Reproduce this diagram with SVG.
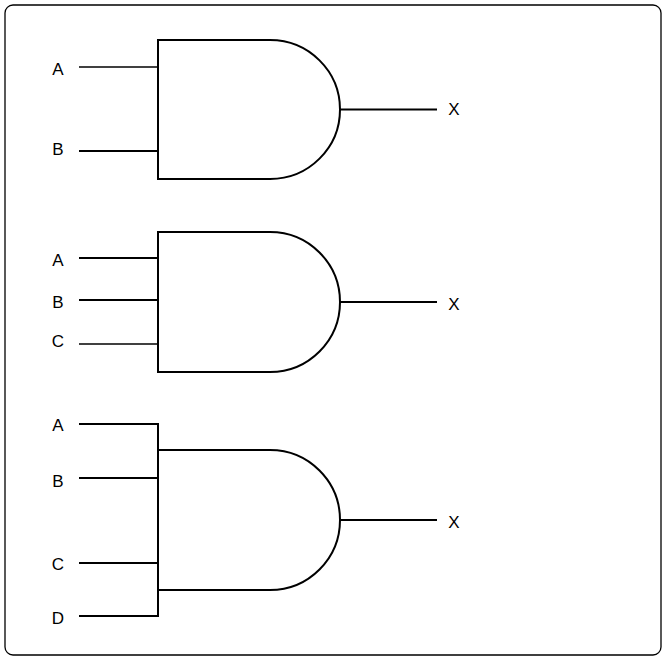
<svg xmlns="http://www.w3.org/2000/svg" width="666" height="660" viewBox="0 0 666 660">
<style>
.g{fill:#fff;stroke:#000;stroke-width:2}
.w{stroke:#000;stroke-width:2;fill:none}
.t{stroke:#000;stroke-width:1.3;fill:none}
text{font-family:"Liberation Sans",Arial,sans-serif;font-size:17px;fill:#000;dominant-baseline:central;text-anchor:middle}
</style>
<rect x="5" y="5" width="656" height="650" rx="8" fill="#fff" stroke="#000" stroke-width="1.3"/>
<g id="connectors">
<line class="t" x1="79" y1="67" x2="158" y2="67"/>
<line class="w" x1="79" y1="151" x2="158" y2="151"/>
<line class="w" x1="340" y1="109.5" x2="437" y2="109.5"/>
<line class="w" x1="79" y1="258" x2="158" y2="258"/>
<line class="w" x1="79" y1="300" x2="158" y2="300"/>
<line class="t" x1="79" y1="344" x2="158" y2="344"/>
<line class="w" x1="340" y1="302" x2="437" y2="302"/>
<polyline class="w" points="79,424 158,424 158,616 79,616"/>
<line class="w" x1="79" y1="478" x2="158" y2="478"/>
<line class="w" x1="79" y1="563" x2="158" y2="563"/>
<line class="w" x1="340" y1="520" x2="437" y2="520"/>
</g>
<g id="gate1"><path class="g" d="M158,40 H270 A70,69.5 0 0 1 270,179 H158 Z"/>
<text x="58" y="69">A</text><text x="58" y="149">B</text><text x="454" y="109">X</text></g>
<g id="gate2"><path class="g" d="M158,232 H270 A70,70 0 0 1 270,372 H158 Z"/>
<text x="58" y="260">A</text><text x="58" y="302">B</text><text x="58" y="341">C</text><text x="454" y="304">X</text></g>
<g id="gate3"><path class="g" d="M158,450 H270 A70,70 0 0 1 270,590 H158 Z"/>
<text x="58" y="425">A</text><text x="58" y="481">B</text><text x="58" y="564">C</text><text x="58" y="618">D</text><text x="454" y="522">X</text></g>
</svg>
